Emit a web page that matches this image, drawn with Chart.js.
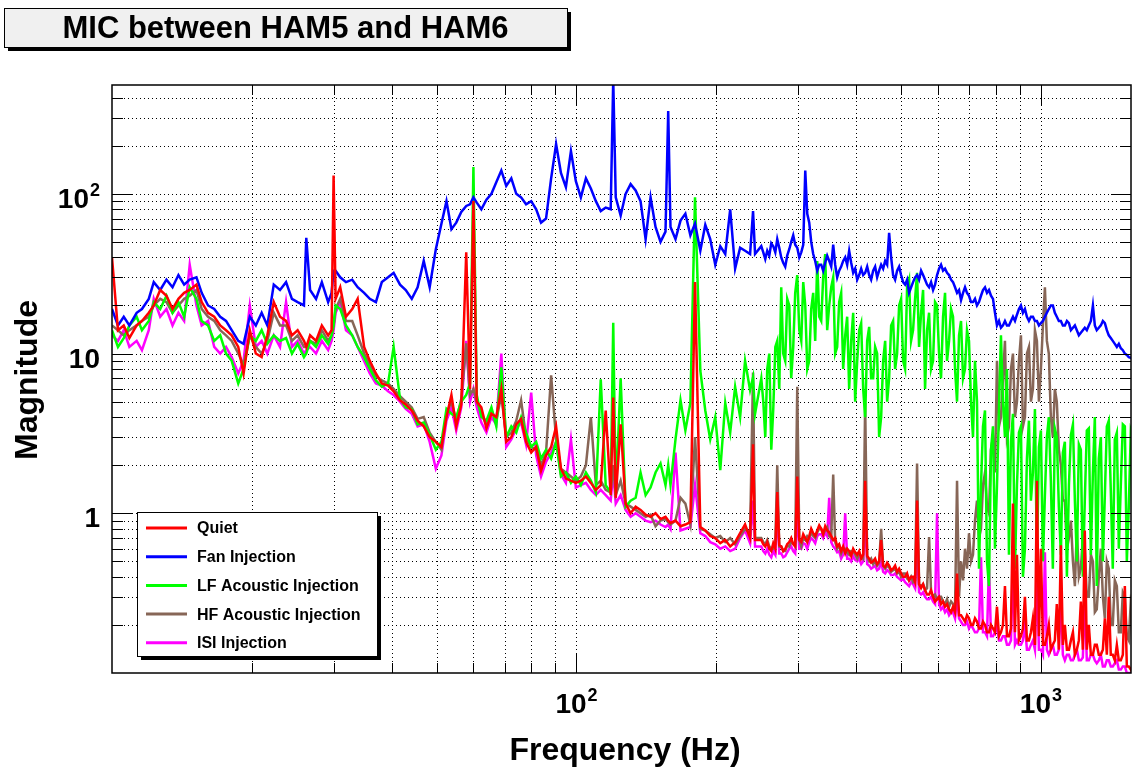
<!DOCTYPE html>
<html>
<head>
<meta charset="utf-8">
<script src="https://cdn.jsdelivr.net/npm/chart.js@4.4.1/dist/chart.umd.min.js"></script>
<style>
  html, body { margin: 0; padding: 0; background: #ffffff; }
  canvas { display: block; }
</style>
</head>
<body>
<canvas id="spectrum" width="1132" height="770"></canvas>
<script>
// Frequency bins (Hz) shared by every spectrum
const freq = [
  10, 10.3, 10.6, 10.9, 11.3, 11.6, 12.0, 12.3, 12.7, 13.1,
  13.5, 13.9, 14.3, 14.7, 15.2, 15.6, 16.1, 16.6, 17.1, 17.6,
  18.1, 18.7, 19.2, 19.8, 20.4, 21.0, 21.6, 22.3, 23.0, 23.7,
  24.4, 25.1, 25.9, 26.2, 26.7, 27.5, 28.3, 29.2, 29.7, 30.0,
  30.3, 31.0, 31.9, 32.9, 33.8, 34.9, 35.9, 37.0, 38.1, 39.3,
  40.4, 41.7, 42.9, 44.2, 45.5, 46.9, 48.3, 49.8,
  51.2, 52.5, 53.8, 55.1, 56.5, 57.9, 59.0, 60.0, 61.0, 62.4,
  64.0, 65.6, 67.2, 68.9, 70.6, 72.4, 74.2, 76.0, 77.9, 79.9,
  81.9, 83.9, 86.0, 88.2, 90.4, 92.6, 94.9, 97.3, 99.7, 102.2,
  104.8, 107.4, 110.1, 112.8, 115.6, 118.5, 120.0, 121.5, 124.5, 127.6,
  130.8, 134.1, 137.4, 140.9, 144.4, 148.0, 151.7, 155.5, 157.6, 159.4,
  163.4, 167.5, 171.6, 175.9, 180.0, 184.8, 189.4, 194.1, 199.0, 204.0,
  209.1, 214.3, 219.6, 225.1, 230.7, 236.5, 240.0, 242.4,
  250, 252.5, 255, 257.5, 260.1, 262.7, 265.3, 268, 270.6, 273.3, 276.0, 278.7, 281.5, 284.3, 287.2, 290, 292.9, 295.8, 298.8, 301.8,
  304.8, 307.8, 310.9, 314, 317.1, 320.2, 323.4, 326.6, 329.9, 333.2, 336.5, 339.8, 343.2, 346.6, 350.1, 353.6, 357.1, 360.6, 364.2, 367.8,
  371.5, 375.2, 379.0, 382.7, 386.5, 390.4, 394.3, 398.2, 402.2, 406.2, 410.2, 414.3, 418.4, 422.6, 426.8, 431, 435.3, 439.6, 444.0, 448.4,
  452.9, 457.4, 462.0, 466.6, 471.2, 475.9, 480.6, 485.4, 490.2, 495.1, 500.0, 505, 510.0, 515.1, 520.2, 525.4, 530.6, 535.9, 541.2, 546.6,
  552.1, 557.6, 563.1, 568.7, 574.4, 580.1, 585.9, 591.7, 597.6, 603.5, 609.5, 615.6, 621.7, 627.9, 634.2, 640.5, 646.8, 653.3, 659.8, 666.4,
  673.0, 679.7, 686.4, 693.2, 700.1, 707.1, 714.1, 721.2, 728.4, 735.7, 743.0, 750.4, 757.9, 765.4, 773.0, 780.7, 788.5, 796.4, 804.3, 812.3,
  820.3, 828.5, 836.7, 845.1, 853.5, 862, 870.6, 879.3, 888.0, 896.8, 905.7, 914.7, 923.8, 933, 942.3, 951.7, 961.2, 970.8, 980.4, 990.2,
  1000, 1010, 1020, 1030, 1040, 1050.5, 1061, 1071.5, 1082, 1093, 1104, 1115, 1126, 1137.5, 1149, 1160.3, 1172, 1183.4, 1195, 1207,
  1219, 1231, 1243, 1255.5, 1268, 1281, 1294, 1306.5, 1319, 1332.5, 1346, 1359.5, 1373, 1386.5, 1400, 1414, 1428, 1442.5, 1457, 1471.5,
  1486, 1501, 1516, 1531, 1546, 1561.5, 1577
];

// Spectrum magnitudes, one value per frequency bin
const quiet = [
  40, 14, 15, 12.5, 15, 16, 18, 20, 25, 23,
  19, 22, 24, 25, 27, 21, 18, 17, 15, 14,
  13, 11, 7.5, 14, 10, 9.5, 13, 21, 17, 16,
  13, 14, 12, 11, 13, 12, 15, 13, 14, 130,
  22, 26, 17, 19, 22, 11, 9, 7.5, 6.5, 6.3,
  5.8, 5.1, 4.8, 4.4, 3.8, 3.5, 3.0, 2.8,
  2.6, 4.0, 5.5, 3.5, 4.8, 43, 6, 90, 5, 4.6,
  3.4, 4.2, 4.0, 6.0, 2.8, 3.0, 3.6, 3.9, 2.8, 2.4,
  2.6, 1.85, 2.3, 2.6, 3.5, 1.9, 1.65, 1.6, 1.55, 1.6,
  1.7, 1.55, 1.4, 1.5, 4.4, 1.3, 5.3, 1.25, 3.6, 1.15,
  1.0, 1.1, 1.05, 0.98, 0.95, 1.0, 0.92, 0.95, 0.9, 0.87,
  0.9, 0.83, 0.85, 0.88, 28, 0.82, 0.78, 0.72, 0.7, 0.65,
  0.68, 0.62, 0.66, 0.75, 0.85, 0.7, 2.7, 0.68,
  0.68, 0.64, 0.62, 0.66, 0.6, 0.58, 0.65, 0.6, 1.36, 0.63, 0.62, 0.58, 0.6, 0.64, 0.66, 0.7, 0.64, 0.62, 1.7, 0.68,
  0.66, 0.74, 0.7, 0.66, 0.72, 0.8, 0.75, 0.72, 0.78, 0.84, 0.8, 0.74, 0.83, 0.78, 0.76, 0.72, 0.68, 0.7, 0.62, 0.64,
  0.58, 0.62, 0.56, 0.6, 0.58, 0.54, 0.6, 0.57, 0.55, 0.58, 0.52, 0.55, 1.6, 0.54, 0.52, 0.49, 0.5, 0.52, 0.48, 0.5,
  0.68, 0.47, 0.46, 0.49, 0.47, 0.44, 0.45, 0.47, 0.43, 0.45, 0.42, 0.4, 0.4, 0.42, 0.38, 0.4, 0.4, 0.37, 1.2, 0.36,
  0.34, 0.36, 0.33, 0.31, 0.31, 0.33, 0.3, 0.28, 0.29, 0.3, 0.27, 0.28, 0.26, 0.27, 0.25, 0.24, 0.26, 0.24, 0.42, 0.23,
  0.23, 0.22, 0.21, 0.23, 0.22, 0.2, 0.2, 0.22, 0.21, 0.19, 0.19, 0.21, 0.2, 0.18, 0.18, 0.2, 0.19, 0.18, 0.26, 0.17,
  0.18, 0.2, 0.35, 0.17, 0.17, 0.19, 1.15, 0.18, 0.55, 0.16, 0.17, 0.19, 0.3, 0.16, 0.16, 0.18, 0.22, 0.15, 1.6, 0.17,
  0.6, 0.15, 0.15, 0.17, 0.2, 0.14, 0.15, 0.16, 0.27, 0.14, 0.63, 0.15, 0.2, 0.14, 0.14, 0.16, 0.18, 0.13, 0.14, 0.16,
  0.28, 0.14, 0.78, 0.14, 0.2, 0.13, 0.13, 0.15, 0.15, 0.13, 0.13, 0.14, 0.22, 0.13, 0.3, 0.13, 0.13, 0.12, 0.15, 0.12,
  0.12, 0.13, 0.35, 0.11, 0.11, 0.105, 0.1
];

const fanInjection = [
  19, 15, 17, 15, 18, 19, 22, 28, 25, 29,
  26, 31, 27, 29, 30, 24, 20, 19, 17, 16,
  14, 12, 11.5, 17, 15, 18, 15, 27, 25, 28,
  22, 21, 20, 53, 25, 22, 28, 21, 24, 33,
  33, 30, 28, 29, 26, 24, 22, 21, 28, 30,
  32, 27, 25, 22, 26, 38, 26, 45,
  65, 90, 60, 66, 77, 84, 86, 95, 88, 80,
  92, 100, 118, 140, 112, 125, 100, 95, 86, 90,
  80, 66, 70, 125, 205, 135, 110, 185, 120, 95,
  125, 108, 90, 78, 82, 80, 520, 95, 73, 100,
  115, 105, 90, 52, 95, 62, 50, 58, 330, 62,
  52, 68, 75, 55, 65, 44, 64, 52, 36, 47,
  42, 80, 34, 46, 44, 42, 78, 42,
  47, 43, 39, 44, 41, 49, 47, 43, 52, 46, 40, 37, 35, 41, 45, 50, 55, 48, 46, 40,
  43, 48, 140, 75, 66, 50, 42, 38, 33, 36, 36, 33, 37, 41, 38, 35, 48, 36, 30, 33,
  35, 38, 40, 36, 44, 37, 32, 34, 29, 31, 34, 31, 32, 35, 31, 29, 33, 35, 30, 33,
  36, 34, 38, 36, 57, 40, 31, 29, 33, 35, 31, 28, 27, 29, 24, 26, 28, 30, 31, 29,
  33, 31, 29, 27, 26, 28, 25, 27, 31, 34, 36, 33, 34, 32, 31, 29, 28, 26, 24, 25,
  21.6, 24, 26, 24, 23, 21, 21, 22, 20, 21, 23, 25, 26, 24, 25, 23, 22, 18, 15, 16,
  14.5, 15, 16, 15, 15, 16, 17, 16, 17.5, 19, 20, 18, 19, 17, 16, 17, 17, 16, 16, 15,
  15.5, 16, 17, 18, 19, 20, 20, 18, 17, 16, 16, 15, 15, 16, 15.5, 14, 14.5, 15, 14, 13,
  13.5, 14, 14.5, 14, 15, 16, 20, 15, 14, 14.5, 15, 16, 15.5, 14, 13, 12.5, 12, 11.5, 11, 11.5,
  10.8, 10.5, 10, 9.8, 9.5, 9.4, 9.3
];

const lfAcoustic = [
  14, 11, 12.5, 15, 17, 14, 16, 21, 19, 23,
  18, 21, 17, 26, 22, 16, 15, 12, 13, 10,
  9, 6.5, 8, 13, 12, 14, 11.5, 13, 12, 12.5,
  10, 11.5, 9.5, 10, 12, 11, 13, 11.5, 13, 15,
  20, 19, 15, 13, 11, 9.5, 8, 6.8, 6.2, 6.5,
  11, 5.2, 4.6, 4.5, 3.6, 3.7, 3.1, 2.5,
  2.8, 4.5, 4.2, 4.0, 5.0, 5.5, 6.5, 147, 5.5, 4.0,
  3.8, 4.6, 3.5, 8.2, 3.0, 3.5, 3.2, 4.0, 3.2, 2.6,
  2.8, 2.2, 2.5, 2.2, 2.8, 1.7, 1.8, 1.55, 1.7, 1.5,
  1.8, 1.6, 1.35, 6.9, 1.5, 1.35, 15.6, 1.3, 7.0, 1.1,
  1.2, 1.25, 1.8, 1.3, 1.45, 1.8, 2.05, 1.5, 2.0, 1.5,
  2.9, 5.1, 3.3, 4.9, 95, 7.8, 4.4, 2.9, 4.0, 1.86,
  4.9, 3.2, 6.2, 4.0, 9, 5.9, 7.1, 4.2,
  7, 5, 3, 8, 10, 2.5, 4.5, 11, 12, 6, 26, 10, 9, 22, 20, 7, 11, 24, 31, 14,
  12, 28, 20, 8, 9, 19, 24, 12, 38, 17, 16, 30, 42, 14, 20, 26, 30, 10, 11, 21,
  24, 8, 13, 17, 6, 12, 18, 5, 9, 14, 15.5, 6, 4, 12, 14.7, 7, 7, 11, 10, 3,
  4, 9, 12, 5, 7, 15, 16, 8, 10, 20, 22, 9, 8, 26, 29, 12, 14, 22, 32, 11,
  18, 25, 6, 14, 18, 8, 9, 21, 20, 10, 7, 17, 24, 9, 12, 19, 17, 8, 5, 13,
  16, 7, 8, 14, 12, 5, 3, 9, 5, 0.45, 1.5, 3.5, 4.4, 0.5, 0.35, 2.5, 3.5, 0.6, 1.5, 4.5,
  13, 5, 3, 8, 0.55, 2.8, 4.2, 0.45, 1.5, 3.2, 3.5, 0.4, 0.6, 2.2, 3.8, 1.2, 1.8, 4.5, 0.5, 2.6,
  3.3, 0.5, 1.3, 3.0, 4.0, 1.6, 0.45, 3.4, 3.0, 1.1, 0.55, 2.4, 2.8, 0.4, 1.5, 3.1, 3.6, 1.2, 0.5, 2.7,
  2.5, 0.4, 1.2, 3.3, 3.4, 0.55, 1.8, 4.0, 0.35, 2.2, 3.0, 0.5, 1.3, 3.5, 3.8, 1.4, 0.45, 2.9, 3.2, 0.6,
  1.5, 3.6, 3.5, 0.5, 1.1, 3.3, 3.0
];

const hfAcoustic = [
  15, 14, 13, 14, 15, 16, 17, 20, 22, 21,
  18, 20, 22, 23, 25, 19, 17, 16, 14, 13,
  12, 10, 8.5, 13, 11, 10, 12, 18, 15, 15,
  12, 13, 11, 11, 12, 11.5, 14, 12, 13, 15,
  19, 22, 16, 16, 13, 10, 8.5, 7.2, 6.8, 6.5,
  6, 5.4, 5, 4.6, 3.9, 4.0, 3.2, 2.8,
  2.5, 4.2, 5.0, 3.8, 5.2, 11.6, 5.5, 6, 5, 4.2,
  3.6, 4.4, 3.8, 5.5, 3.0, 3.2, 3.8, 5.1, 3.0, 2.6,
  2.5, 2.0, 2.4, 7.3, 2.9, 1.9, 1.8, 1.7, 1.6, 1.7,
  2.0, 4.0, 1.5, 1.6, 1.4, 1.35, 2.0, 1.3, 1.6, 1.15,
  1.1, 1.05, 1.0, 0.95, 0.98, 0.83, 0.9, 0.92, 0.88, 0.85,
  0.9, 1.25, 1.15, 0.85, 3.0, 0.8, 0.78, 0.74, 0.7, 0.72,
  0.66, 0.7, 0.64, 0.72, 0.8, 0.75, 7.6, 0.7,
  0.7, 0.66, 0.64, 0.68, 0.62, 0.6, 0.6, 0.64, 2.0, 0.62, 0.62, 0.58, 0.58, 0.63, 0.62, 0.66, 0.65, 0.62, 6.2, 0.68,
  0.62, 0.7, 0.68, 0.72, 0.7, 0.76, 0.72, 0.7, 0.76, 0.8, 0.8, 0.74, 0.78, 0.82, 0.72, 0.7, 1.75, 0.66, 0.6, 0.63,
  0.56, 0.6, 0.6, 0.57, 0.55, 0.58, 0.58, 0.55, 0.52, 0.56, 0.54, 0.52, 4.9, 0.53, 0.5, 0.52, 0.48, 0.5, 0.47, 0.49,
  0.8, 0.47, 0.45, 0.47, 0.46, 0.43, 0.44, 0.45, 0.42, 0.43, 0.4, 0.42, 0.42, 0.39, 0.38, 0.4, 0.37, 0.38, 2.05, 0.36,
  0.35, 0.36, 0.33, 0.34, 0.71, 0.32, 0.3, 0.31, 0.29, 0.3, 0.3, 0.28, 0.27, 0.29, 0.26, 0.28, 0.27, 0.26, 1.6, 0.3,
  0.5, 0.38, 0.6, 0.45, 0.75, 0.5, 0.55, 0.9, 1.2, 0.7, 0.8, 1.5, 1.8, 1.1, 1.0, 2.5, 3.0, 1.8, 9, 3.5,
  4, 7, 12, 3, 3.5, 8, 10, 4, 5, 9, 13, 3.5, 4, 10, 11, 5, 6, 14, 12, 5,
  8, 15, 26, 12, 10, 4, 3, 6, 5, 2.5, 2.0, 1.2, 1.2, 0.6, 0.7, 0.9, 0.5, 0.35, 0.8, 0.4,
  0.45, 0.7, 0.6, 0.3, 0.3, 0.55, 0.5, 0.24, 0.25, 0.4, 0.6, 0.3, 0.22, 0.5, 0.45, 0.2, 0.2, 0.38, 0.35, 0.18,
  0.18, 0.32, 0.3, 0.17, 0.16, 0.28, 0.25
];

const isiInjection = [
  13, 12, 14, 11, 12, 10.5, 14, 22, 17, 19,
  15, 18, 16, 36, 20, 15, 16, 11, 10, 11,
  9.5, 7.5, 9, 20, 11, 12, 10, 13, 11, 21,
  11, 12, 10, 10.5, 11, 10, 12, 10.5, 12, 14,
  18, 21, 14, 13, 11, 9, 7.5, 6.5, 6.3, 5.8,
  5.5, 5, 4.5, 4.2, 3.5, 3.6, 2.8, 1.9,
  2.3, 3.8, 4.6, 3.3, 4.6, 12, 5.0, 6, 4.6, 3.7,
  3.2, 4.0, 3.6, 10, 2.6, 2.9, 3.4, 3.7, 2.7, 5.7,
  2.3, 1.7, 2.1, 2.4, 2.8, 1.75, 1.55, 2.9, 1.45, 1.5,
  1.55, 1.4, 1.3, 1.4, 1.3, 1.2, 1.8, 1.15, 1.3, 1.05,
  0.95, 1.0, 0.95, 0.9, 0.88, 0.9, 0.85, 0.82, 0.85, 0.8,
  2.4, 0.78, 0.8, 0.82, 1.5, 0.75, 0.72, 0.66, 0.64, 0.6,
  0.62, 0.58, 0.6, 0.7, 0.78, 0.65, 1.2, 0.62,
  0.62, 0.58, 0.56, 0.6, 0.55, 0.53, 0.58, 0.55, 1.1, 0.56, 0.56, 0.53, 0.54, 0.57, 0.6, 0.62, 0.58, 0.56, 1.0, 0.6,
  0.6, 0.65, 0.64, 0.6, 0.66, 0.7, 0.68, 0.65, 0.72, 0.74, 0.74, 0.7, 0.76, 0.72, 1.25, 0.66, 0.62, 0.6, 0.57, 0.58,
  0.52, 0.55, 1.0, 0.52, 0.52, 0.5, 0.54, 0.51, 0.5, 0.52, 0.48, 0.5, 0.9, 0.48, 0.47, 0.45, 0.46, 0.47, 0.44, 0.45,
  0.5, 0.43, 0.42, 0.44, 0.43, 0.41, 0.41, 0.42, 0.4, 0.39, 0.38, 0.39, 0.37, 0.36, 0.35, 0.37, 0.36, 0.34, 0.6, 0.32,
  0.31, 0.32, 0.3, 0.29, 0.29, 0.3, 0.28, 0.27, 1.0, 0.27, 0.25, 0.26, 0.24, 0.25, 0.23, 0.24, 0.24, 0.22, 0.3, 0.22,
  0.21, 0.2, 0.2, 0.21, 0.19, 0.2, 0.19, 0.18, 0.18, 0.19, 0.53, 0.18, 0.18, 0.17, 0.48, 0.17, 0.17, 0.18, 0.2, 0.16,
  0.16, 0.17, 0.17, 0.15, 0.15, 0.16, 0.5, 0.15, 0.16, 0.15, 0.15, 0.16, 0.2, 0.14, 0.14, 0.15, 0.16, 0.14, 0.45, 0.14,
  0.14, 0.13, 0.57, 0.14, 0.13, 0.14, 0.15, 0.13, 0.13, 0.14, 0.3, 0.13, 0.12, 0.13, 0.13, 0.12, 0.12, 0.13, 0.14, 0.12,
  0.12, 0.125, 0.3, 0.12, 0.12, 0.13, 0.13, 0.12, 0.115, 0.12, 0.13, 0.11, 0.11, 0.12, 0.12, 0.11, 0.11, 0.115, 0.12, 0.105,
  0.105, 0.11, 0.11, 0.1, 0.1, 0.1, 0.098
];

const seriesNames  = ['Quiet', 'Fan Injection', 'LF Acoustic Injection', 'HF Acoustic Injection', 'ISI Injection'];
const seriesValues = [quiet, fanInjection, lfAcoustic, hfAcoustic, isiInjection];
const seriesColors = ['#ff0000', '#0000ff', '#00ff00', '#876657', '#ff00ff'];

// Axis ranges, grid positions and decade labels
const xRange = [10, 1563];
const yRange = [0.1, 480];
const xGrid = [20, 30, 40, 50, 60, 70, 80, 90, 100, 200, 300, 400, 500, 600, 700, 800, 900, 1000];
const yGrid = [0.2, 0.3, 0.4, 0.5, 0.6, 0.7, 0.8, 0.9, 1, 2, 3, 4, 5, 6, 7, 8, 9,
               10, 20, 30, 40, 50, 60, 70, 80, 90, 100, 200, 300, 400];
const xTickLabels = [{ value: 100, base: '10', exp: '2' }, { value: 1000, base: '10', exp: '3' }];
const yTickLabels = [{ value: 1, base: '1', exp: '' }, { value: 10, base: '10', exp: '' }, { value: 100, base: '10', exp: '2' }];

const titleText = 'MIC between HAM5 and HAM6';
const xTitle = 'Frequency (Hz)';
const yTitle = 'Magnitude';

const FONT = "'Liberation Sans', Arial, Helvetica, sans-serif";

function isDecade(v) {
  const l = Math.log10(v);
  return Math.abs(l - Math.round(l)) < 1e-9;
}

// Frame, inward ticks, dotted grid, labels, legend and title box
const decorations = {
  id: 'decorations',
  beforeDatasetsDraw(chart) {
    const { ctx, chartArea: a, scales: { x, y } } = chart;
    ctx.save();
    ctx.strokeStyle = '#000';
    ctx.lineWidth = 1;
    ctx.setLineDash([1, 3]);
    ctx.beginPath();
    xGrid.forEach(v => {
      const px = Math.round(x.getPixelForValue(v)) + 0.5;
      ctx.moveTo(px, a.top); ctx.lineTo(px, a.bottom);
    });
    yGrid.forEach(v => {
      const py = Math.round(y.getPixelForValue(v)) + 0.5;
      ctx.moveTo(a.left, py); ctx.lineTo(a.right, py);
    });
    ctx.stroke();
    ctx.restore();
  },
  afterDatasetsDraw(chart) {
    const { ctx, chartArea: a, scales: { x, y } } = chart;
    ctx.save();
    ctx.setLineDash([]);
    ctx.strokeStyle = '#000';
    ctx.fillStyle = '#000';

    // frame
    ctx.lineWidth = 1.5;
    ctx.strokeRect(a.left, a.top, a.right - a.left, a.bottom - a.top);

    // inward tick marks on all four sides
    ctx.lineWidth = 1;
    ctx.beginPath();
    xGrid.forEach(v => {
      const px = Math.round(x.getPixelForValue(v)) + 0.5;
      const len = isDecade(v) ? 20 : 10;
      ctx.moveTo(px, a.bottom); ctx.lineTo(px, a.bottom - len);
      ctx.moveTo(px, a.top); ctx.lineTo(px, a.top + len);
    });
    yGrid.forEach(v => {
      const py = Math.round(y.getPixelForValue(v)) + 0.5;
      const len = isDecade(v) ? 20 : 11;
      ctx.moveTo(a.left, py); ctx.lineTo(a.left + len, py);
      ctx.moveTo(a.right, py); ctx.lineTo(a.right - len, py);
    });
    ctx.stroke();

    // decade labels
    const baseFont = 'bold 28px ' + FONT;
    const expFont = 'bold 18px ' + FONT;
    ctx.textBaseline = 'alphabetic';
    ctx.textAlign = 'left';
    xTickLabels.forEach(t => {
      const px = x.getPixelForValue(t.value);
      ctx.font = baseFont; const wb = ctx.measureText(t.base).width;
      ctx.font = expFont;  const we = t.exp ? ctx.measureText(t.exp).width + 1 : 0;
      const x0 = px - (wb + we) / 2;
      ctx.font = baseFont; ctx.fillText(t.base, x0, a.bottom + 40);
      if (t.exp) { ctx.font = expFont; ctx.fillText(t.exp, x0 + wb + 1, a.bottom + 28); }
    });
    yTickLabels.forEach(t => {
      const py = y.getPixelForValue(t.value);
      const right = a.left - 12;
      ctx.font = expFont; const we = t.exp ? ctx.measureText(t.exp).width + 1 : 0;
      ctx.font = baseFont; const wb = ctx.measureText(t.base).width;
      ctx.fillText(t.base, right - we - wb, py + 14);
      if (t.exp) { ctx.font = expFont; ctx.fillText(t.exp, right - we + 1, py + 2); }
    });

    // axis titles
    ctx.font = 'bold 32px ' + FONT;
    ctx.textAlign = 'center';
    ctx.fillText(xTitle, 625, 760);
    ctx.save();
    ctx.translate(37, 380);
    ctx.rotate(-Math.PI / 2);
    ctx.fillText(yTitle, 0, 0);
    ctx.restore();

    // legend box with drop shadow
    const lg = { left: 137, top: 512, width: 240, height: 144 };
    ctx.fillStyle = '#000';
    ctx.fillRect(lg.left + 4, lg.top + 4, lg.width, lg.height);
    ctx.fillStyle = '#fff';
    ctx.fillRect(lg.left, lg.top, lg.width, lg.height);
    ctx.lineWidth = 1;
    ctx.strokeRect(lg.left + 0.5, lg.top + 0.5, lg.width, lg.height);
    ctx.font = 'bold 16px ' + FONT;
    ctx.textAlign = 'left';
    ctx.textBaseline = 'middle';
    chart.data.datasets.forEach((ds, i) => {
      const cy = lg.top + 16 + i * 28.7;
      ctx.strokeStyle = ds.borderColor;
      ctx.lineWidth = 3;
      ctx.beginPath(); ctx.moveTo(146, cy); ctx.lineTo(187, cy); ctx.stroke();
      ctx.fillStyle = '#000';
      ctx.fillText(ds.label, 197, cy + 1);
    });

    // title box with drop shadow
    const tb = { left: 4, top: 8, width: 563, height: 39 };
    ctx.fillStyle = '#000';
    ctx.fillRect(tb.left + 4, tb.top + 4, tb.width, tb.height);
    ctx.fillStyle = '#f0f0f0';
    ctx.fillRect(tb.left, tb.top, tb.width, tb.height);
    ctx.strokeStyle = '#000';
    ctx.lineWidth = 1;
    ctx.strokeRect(tb.left + 0.5, tb.top + 0.5, tb.width, tb.height);
    ctx.fillStyle = '#000';
    ctx.font = 'bold 31px ' + FONT;
    ctx.textAlign = 'center';
    ctx.textBaseline = 'alphabetic';
    ctx.fillText(titleText, tb.left + tb.width / 2, tb.top + 30);

    ctx.restore();
  }
};

new Chart(document.getElementById('spectrum'), {
  type: 'line',
  data: {
    datasets: seriesNames.map((name, i) => ({
      label: name,
      data: freq.map((f, k) => ({ x: f, y: seriesValues[i][k] })),
      borderColor: seriesColors[i],
      backgroundColor: seriesColors[i],
      borderWidth: 2.5,
      pointRadius: 0,
      tension: 0,
      fill: false
    }))
  },
  options: {
    responsive: false,
    animation: false,
    devicePixelRatio: 1,
    layout: { padding: { left: 112, top: 85, right: 1, bottom: 97 } },
    plugins: { legend: { display: false }, tooltip: { enabled: false }, title: { display: false } },
    scales: {
      x: { type: 'logarithmic', min: xRange[0], max: xRange[1], bounds: 'data', display: false },
      y: { type: 'logarithmic', min: yRange[0], max: yRange[1], bounds: 'data', display: false }
    }
  },
  plugins: [decorations]
});
</script>
</body>
</html>
